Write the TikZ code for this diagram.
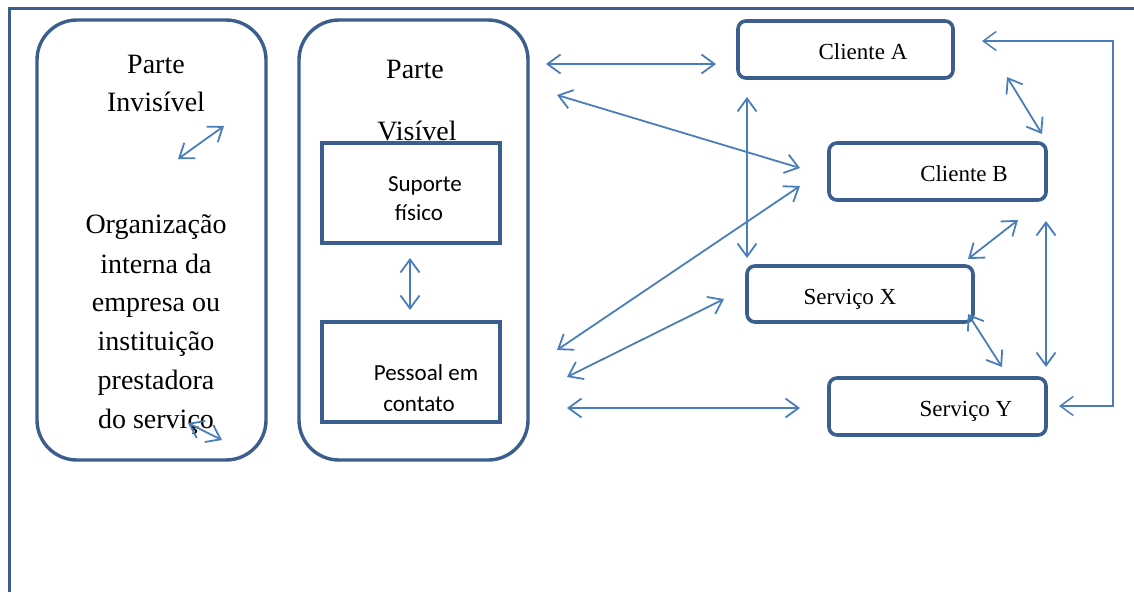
\documentclass[tikz,border=0pt]{standalone}
\usepackage{fontspec}
\setmainfont{Liberation Serif}
\newfontfamily\calfont{Carlito}
\usetikzlibrary{arrows.meta}
\definecolor{boxblue}{HTML}{3A5F8E}
\definecolor{arrblue}{HTML}{4A7EBB}
\tikzset{
  x=1pt, y=-1pt,
  frame/.style={draw=boxblue, line width=3pt},
  bigbox/.style={draw=boxblue, line width=3.4pt, rounded corners=40pt, minimum width=229pt, minimum height=440pt, inner sep=0pt},
  sqbox/.style={draw=boxblue, line width=3.4pt, minimum width=178pt, minimum height=100pt, inner sep=0pt},
  rbox/.style={draw=boxblue, line width=3.6pt, rounded corners=8pt, minimum height=57pt, inner sep=0pt},
  dbl/.style={draw=arrblue, line width=1.8pt, {Straight Barb[length=13pt,width=19pt]}-{Straight Barb[length=13pt,width=19pt]}},
  bigtxt/.style={font=\fontsize{28}{30}\selectfont, anchor=base, inner sep=0pt},
  medtxt/.style={font=\fontsize{23}{26}\selectfont, anchor=base, inner sep=0pt},
  caltxt/.style={font=\calfont\fontsize{23}{26}\selectfont, anchor=base, inner sep=0pt},
}
\begin{document}
\begin{tikzpicture}
\useasboundingbox (0,0) rectangle (1134,592);
\fill[white] (0,0) rectangle (1134,592);
% outer frame
\coordinate (fbl) at (9,592);
\coordinate (ftl) at (9,8);
\coordinate (ftr) at (1134,8);
\draw[frame] (fbl) -- (ftl) -- (ftr);
% boxes
\node[bigbox] (inv) at (151.5,240) {};
\node[bigbox] (vis) at (413.5,240) {};
\node[sqbox] (sup) at (411,193) {};
\node[sqbox] (pes) at (411,372) {};
\node[rbox, minimum width=215pt] (ca) at (845.5,49.5) {};
\node[rbox, minimum width=217pt] (cb) at (937.5,171.5) {};
\node[rbox, minimum width=226pt, minimum height=56pt] (sx) at (860,294) {};
\node[rbox, minimum width=217pt] (sy) at (937.5,406.5) {};
% texts
\node[bigtxt] (t1) at (156,73) {Parte};
\node[bigtxt] (t2) at (156,111) {Invisível};
\node[bigtxt] (t3) at (156,233) {Organização};
\node[bigtxt] (t4) at (156,273) {interna da};
\node[bigtxt] (t5) at (156,311) {empresa ou};
\node[bigtxt] (t6) at (156,350) {instituição};
\node[bigtxt] (t7) at (156,389) {prestadora};
\node[bigtxt] (t8) at (156,428) {do serviço};
\node[bigtxt] (t9) at (415,78) {Parte};
\node[bigtxt] (t10) at (417,140) {Visível};
\node[caltxt] (t11) at (425,191) {Suporte};
\node[caltxt] (t12) at (419,220) {físico};
\node[caltxt] (t13) at (426,380) {Pessoal em};
\node[caltxt] (t14) at (419,411) {contato};
\node[medtxt] (t15) at (863,59) {Cliente A};
\node[medtxt] (t16) at (964,181) {Cliente B};
\node[medtxt] (t17) at (850,304) {Serviço X};
\node[medtxt] (t18) at (966,416) {Serviço Y};
% arrow endpoints
\coordinate (a1s) at (178,159); \coordinate (a1e) at (224,126);
\coordinate (a2s) at (188,423); \coordinate (a2e) at (222,440);
\coordinate (a3s) at (410,258); \coordinate (a3e) at (410,310);
\coordinate (a4s) at (546,64);  \coordinate (a4e) at (716,64);
\coordinate (a5s) at (557,95);  \coordinate (a5e) at (800,168);
\coordinate (a6s) at (557,350); \coordinate (a6e) at (800,186);
\coordinate (a7s) at (567,377); \coordinate (a7e) at (724,299);
\coordinate (a8s) at (567,408); \coordinate (a8e) at (800,408);
\coordinate (a9s) at (747,97);  \coordinate (a9e) at (747,258);
\coordinate (a10s) at (1007,77); \coordinate (a10e) at (1042,134);
\coordinate (a11s) at (1018,220); \coordinate (a11e) at (968,259);
\coordinate (a12s) at (1046,221); \coordinate (a12e) at (1046,367);
\coordinate (a13s) at (968,314); \coordinate (a13e) at (1002,367);
\coordinate (a14s) at (982,41); \coordinate (a14m1) at (1113,41);
\coordinate (a14m2) at (1113,406); \coordinate (a14e) at (1059,406);
\draw[dbl] (a1s) -- (a1e);
\draw[dbl] (a2s) -- (a2e);
\draw[dbl] (a3s) -- (a3e);
\draw[dbl] (a4s) -- (a4e);
\draw[dbl] (a5s) -- (a5e);
\draw[dbl] (a6s) -- (a6e);
\draw[dbl] (a7s) -- (a7e);
\draw[dbl] (a8s) -- (a8e);
\draw[dbl] (a9s) -- (a9e);
\draw[dbl] (a10s) -- (a10e);
\draw[dbl] (a11s) -- (a11e);
\draw[dbl] (a12s) -- (a12e);
\draw[dbl] (a13s) -- (a13e);
\draw[dbl, line width=1.5pt] (a14s) -- (a14m1) -- (a14m2) -- (a14e);
\end{tikzpicture}
\end{document}
